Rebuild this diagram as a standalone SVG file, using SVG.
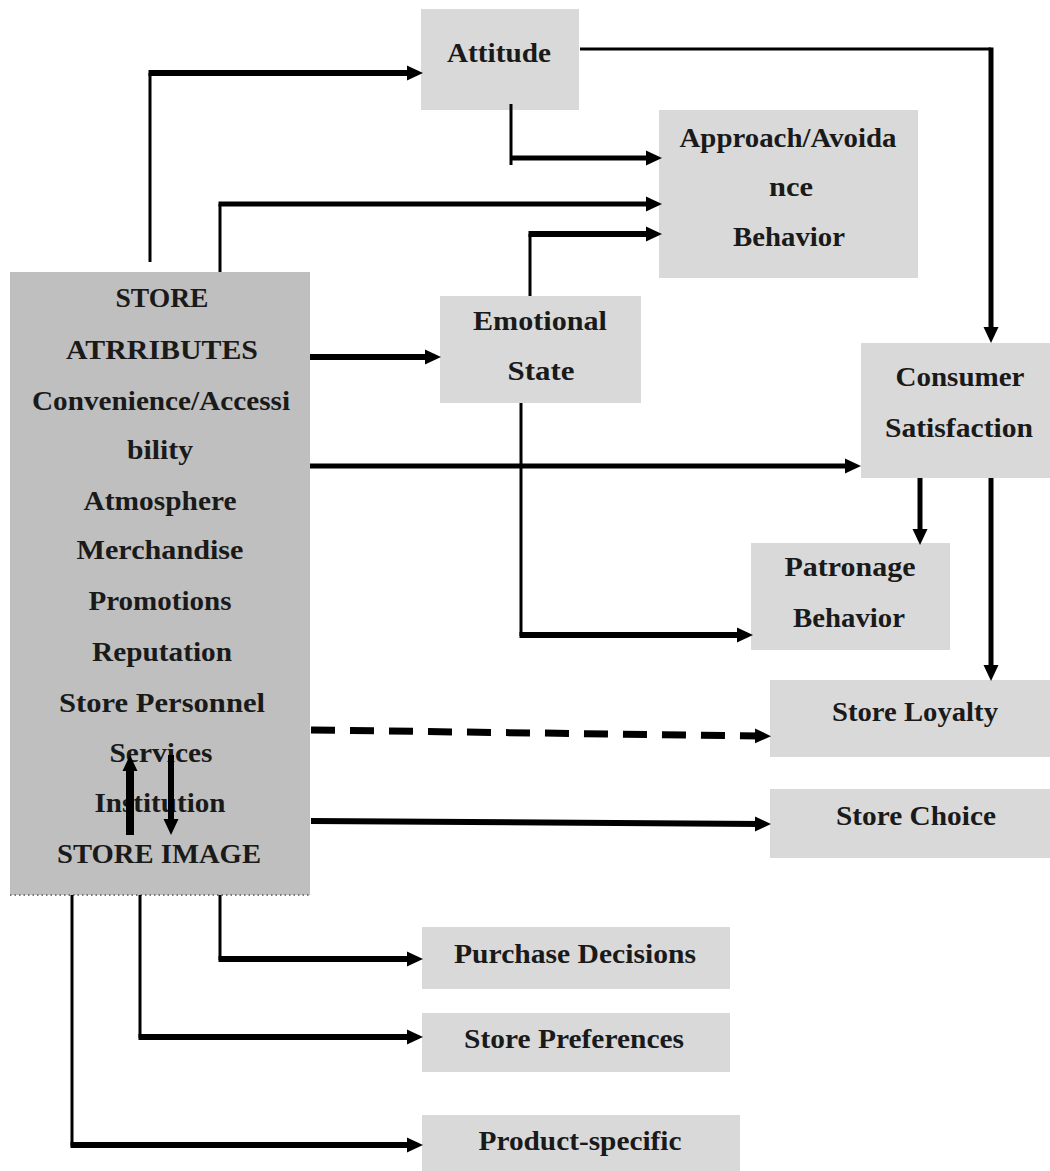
<svg xmlns="http://www.w3.org/2000/svg" width="1050" height="1171" viewBox="0 0 1050 1171">
<style>
.box{fill:#d9d9d9}
.store{fill:#bfbfbf}
text{font-family:"Liberation Serif","Times New Roman",serif;font-weight:bold;font-size:27px;fill:#1a1a1a;text-anchor:middle}
.c{fill:none;stroke:#000;stroke-linejoin:miter;stroke-linecap:butt}
.t{stroke-width:3}
.m{stroke-width:5}
.k{stroke-width:6}
</style>
<defs>
<marker id="ah" markerUnits="userSpaceOnUse" markerWidth="17" markerHeight="17" refX="6" refY="8.5" orient="auto" viewBox="0 0 17 17">
<path d="M0,1 L16,8.5 L0,16 z" fill="#000"/>
</marker>
</defs>
<rect width="1050" height="1171" fill="#fff"/>

<g id="attitude"><rect class="box" x="421" y="9" width="158" height="101"/><text x="499" y="62" textLength="104" lengthAdjust="spacingAndGlyphs">Attitude</text></g>
<g id="approach"><rect class="box" x="659" y="110" width="259" height="168"/>
<text x="788" y="147" textLength="217" lengthAdjust="spacingAndGlyphs">Approach/Avoida</text>
<text x="791" y="196" textLength="44" lengthAdjust="spacingAndGlyphs">nce</text>
<text x="789" y="246" textLength="112" lengthAdjust="spacingAndGlyphs">Behavior</text></g>
<g id="store-attributes"><rect class="store" x="10" y="272" width="300" height="623"/>
<line x1="10" y1="895" x2="310" y2="895" stroke="#777" stroke-width="2" stroke-dasharray="1.5,3"/>
<text x="162" y="307" textLength="93" lengthAdjust="spacingAndGlyphs">STORE</text>
<text x="162" y="359" textLength="192" lengthAdjust="spacingAndGlyphs">ATRRIBUTES</text>
<text x="161" y="410" textLength="258" lengthAdjust="spacingAndGlyphs">Convenience/Accessi</text>
<text x="160" y="459" textLength="66" lengthAdjust="spacingAndGlyphs">bility</text>
<text x="160" y="510" textLength="153" lengthAdjust="spacingAndGlyphs">Atmosphere</text>
<text x="160" y="559" textLength="167" lengthAdjust="spacingAndGlyphs">Merchandise</text>
<text x="160" y="610" textLength="143" lengthAdjust="spacingAndGlyphs">Promotions</text>
<text x="162" y="661" textLength="140" lengthAdjust="spacingAndGlyphs">Reputation</text>
<text x="162" y="712" textLength="206" lengthAdjust="spacingAndGlyphs">Store  Personnel</text>
<text x="161" y="762" textLength="103" lengthAdjust="spacingAndGlyphs">Services</text>
<text x="160" y="812" textLength="131" lengthAdjust="spacingAndGlyphs">Institution</text>
<text x="159" y="863" textLength="204" lengthAdjust="spacingAndGlyphs">STORE IMAGE</text></g>
<g id="emotional"><rect class="box" x="440" y="296" width="201" height="107"/>
<text x="540" y="330" textLength="134" lengthAdjust="spacingAndGlyphs">Emotional</text>
<text x="541" y="380" textLength="67" lengthAdjust="spacingAndGlyphs">State</text></g>
<g id="consumer"><rect class="box" x="861" y="343" width="189" height="135"/>
<text x="960" y="386" textLength="129" lengthAdjust="spacingAndGlyphs">Consumer</text>
<text x="959" y="437" textLength="148" lengthAdjust="spacingAndGlyphs">Satisfaction</text></g>
<g id="patronage"><rect class="box" x="751" y="543" width="199" height="107"/>
<text x="850" y="576" textLength="131" lengthAdjust="spacingAndGlyphs">Patronage</text>
<text x="849" y="627" textLength="112" lengthAdjust="spacingAndGlyphs">Behavior</text></g>
<g id="loyalty"><rect class="box" x="770" y="680" width="280" height="77"/>
<text x="915" y="721" textLength="166" lengthAdjust="spacingAndGlyphs">Store Loyalty</text></g>
<g id="choice"><rect class="box" x="770" y="789" width="280" height="69"/>
<text x="916" y="825" textLength="160" lengthAdjust="spacingAndGlyphs">Store Choice</text></g>
<g id="purchase"><rect class="box" x="422" y="927" width="308" height="62"/>
<text x="575" y="963" textLength="242" lengthAdjust="spacingAndGlyphs">Purchase Decisions</text></g>
<g id="preferences"><rect class="box" x="422" y="1013" width="308" height="59"/>
<text x="574" y="1048" textLength="220" lengthAdjust="spacingAndGlyphs">Store Preferences</text></g>
<g id="product"><rect class="box" x="422" y="1115" width="318" height="56"/>
<text x="580" y="1150" textLength="203" lengthAdjust="spacingAndGlyphs">Product-specific</text></g>

<g id="connectors">
<path class="c t" d="M150,262 V73"/>
<path class="c k" d="M148.5,73 H413" marker-end="url(#ah)"/>
<path class="c t" d="M580,49 H991"/>
<path class="c m" d="M991,47.5 V333" marker-end="url(#ah)"/>
<path class="c t" d="M511,104 V165"/>
<path class="c m" d="M511,158 H652" marker-end="url(#ah)"/>
<path class="c t" d="M220,272 V204"/>
<path class="c m" d="M218.5,204 H652" marker-end="url(#ah)"/>
<path class="c t" d="M530,296 V234"/>
<path class="c k" d="M528.5,234 H652" marker-end="url(#ah)"/>
<path class="c k" d="M310,357 H431" marker-end="url(#ah)"/>
<path class="c m" d="M310,466 H851" marker-end="url(#ah)"/>
<path class="c t" d="M521,403 V636"/>
<path class="c k" d="M519.5,635 H743" marker-end="url(#ah)"/>
<path class="c m" d="M920,478 V535" marker-end="url(#ah)"/>
<path class="c m" d="M991,478 V671" marker-end="url(#ah)"/>
<path class="c" stroke-width="7" stroke-dasharray="24,15" d="M311,730 L761,736" marker-end="url(#ah)"/>
<path class="c k" d="M311,821 L761,824" marker-end="url(#ah)"/>
<path class="c" stroke-width="8" d="M130,835 V765" marker-end="url(#ah)"/>
<path class="c k" d="M171,755 V825" marker-end="url(#ah)"/>
<path class="c t" d="M220,895 V960"/>
<path class="c k" d="M218.5,959 H413" marker-end="url(#ah)"/>
<path class="c t" d="M140,895 V1038"/>
<path class="c k" d="M138.5,1037 H413" marker-end="url(#ah)"/>
<path class="c t" d="M72,895 V1146"/>
<path class="c k" d="M70.5,1145 H413" marker-end="url(#ah)"/>
</g>
</svg>
